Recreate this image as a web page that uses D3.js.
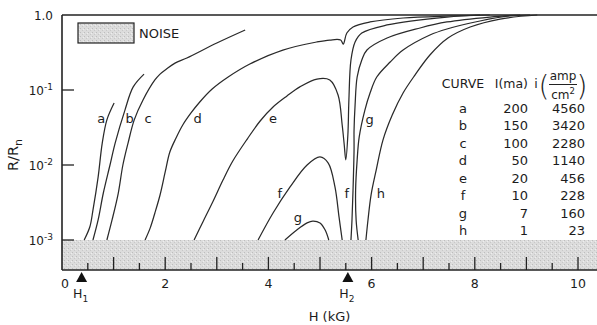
<!DOCTYPE html>
<html><head><meta charset="utf-8">
<script src="https://cdn.jsdelivr.net/npm/d3@7"></script>
<style>
body{margin:0;background:#fff}
svg{display:block}
text{font-family:"DejaVu Sans",sans-serif;fill:#1c1c1c}
</style>
</head><body>
<svg id="chart" width="597" height="325"></svg>
<script>
// ---------- data ----------
const xTickLabels = [0, 2, 4, 6, 8, 10];
const xMajorTicks = [1, 2, 3, 4, 5, 6, 7, 8, 9, 10];
const xMinorTicks = [0.5, 1.5, 2.5, 3.5, 4.5, 5.5, 6.5, 7.5, 8.5, 9.5];
const yTickValues = [1, 0.1, 0.01, 0.001];
const yTickExp = ["1.0", "-1", "-2", "-3"];
const noiseLevel = 0.001;
const H1 = 0.38, H2 = 5.54;

const aH = [0.43, 0.54, 0.60, 0.70, 0.78, 0.87, 1.01];
const aR = [0.001, 0.0015, 0.0025, 0.0069, 0.0196, 0.040, 0.067];
const bH = [0.60, 0.70, 0.80, 0.93, 1.03, 1.22, 1.38, 1.59];
const bR = [0.001, 0.00185, 0.0042, 0.010, 0.0196, 0.054, 0.11, 0.163];
const cH = [0.87, 0.97, 1.09, 1.18, 1.28, 1.40, 1.57, 1.80, 1.90, 2.03, 2.19, 2.42, 3.00, 3.55];
const cR = [0.001, 0.00185, 0.0042, 0.010, 0.0196, 0.040, 0.0736, 0.136, 0.163, 0.192, 0.228, 0.267, 0.423, 0.631];
const dH = [1.61, 1.71, 1.80, 1.90, 2.00, 2.09, 2.21, 2.34, 2.50, 2.67, 2.91, 3.22, 3.64, 4.28, 4.94, 5.19, 5.40, 5.45, 5.52, 5.64, 5.97, 6.61, 7.52, 8.29];
const dR = [0.001, 0.00145, 0.00229, 0.00398, 0.00807, 0.0149, 0.0229, 0.0341, 0.0494, 0.0692, 0.103, 0.149, 0.222, 0.341, 0.437, 0.464, 0.464, 0.41, 0.575, 0.692, 0.807, 0.912, 0.97, 1.0];
const eH = [2.56, 2.73, 2.93, 3.12, 3.31, 3.59, 3.84, 4.09, 4.36, 4.61, 4.94, 5.19, 5.35, 5.43, 5.47, 5.50, 5.54, 5.56, 5.60, 5.68, 5.81, 6.30, 7.46, 8.10];
const eR = [0.001, 0.00174, 0.00331, 0.00631, 0.0113, 0.0222, 0.0386, 0.0593, 0.0832, 0.11, 0.140, 0.136, 0.0858, 0.0341, 0.0185, 0.0117, 0.0251, 0.0736, 0.251, 0.437, 0.575, 0.736, 0.94, 1.0];
const fLeftH = [3.80, 4.09, 4.42, 4.75, 5.00, 5.16, 5.29, 5.37, 5.43];
const fLeftR = [0.001, 0.00229, 0.0051, 0.010, 0.0128, 0.0106, 0.0051, 0.0020, 0.001];
const fRightH = [5.60, 5.62, 5.64, 5.66, 5.66, 5.68, 5.72, 5.81, 5.91, 6.30, 6.94, 7.46, 8.29, 8.88];
const fRightR = [0.001, 0.00185, 0.0046, 0.0158, 0.0293, 0.063, 0.149, 0.251, 0.341, 0.493, 0.671, 0.807, 0.94, 1.0];
const gLeftH = [4.32, 4.55, 4.75, 4.86, 5.00, 5.10, 5.17];
const gLeftR = [0.001, 0.00136, 0.00169, 0.00179, 0.00169, 0.00136, 0.001];
const gRightH = [5.74, 5.70, 5.69, 5.72, 5.76, 5.87, 5.97, 6.10, 6.36, 6.61, 7.13, 7.46, 8.10, 8.68, 9.07];
const gRightR = [0.001, 0.00185, 0.0046, 0.0117, 0.0237, 0.054, 0.0912, 0.149, 0.236, 0.341, 0.541, 0.651, 0.832, 0.97, 1.0];
const hH = [5.89, 5.93, 5.99, 6.09, 6.22, 6.40, 6.61, 6.84, 7.13, 7.48, 7.91, 8.49, 9.21];
const hR = [0.001, 0.00185, 0.0040, 0.0086, 0.0215, 0.0464, 0.0912, 0.158, 0.293, 0.493, 0.692, 0.884, 1.0];

const labelText = ["a", "b", "c", "d", "e", "f", "g", "f", "g", "h"];
const labelH = [0.76, 1.31, 1.67, 2.63, 4.09, 4.22, 4.57, 5.52, 5.96, 6.18];
const labelR = [0.0423, 0.0423, 0.0423, 0.0423, 0.0423, 0.0042, 0.0020, 0.0042, 0.040, 0.0042];

const tableCurve = ["a", "b", "c", "d", "e", "f", "g", "h"];
const tableCurrent = [200, 150, 100, 50, 20, 10, 7, 1];
const tableDensity = [4560, 3420, 2280, 1140, 456, 228, 160, 23];

// ---------- chart ----------
const W = 597;
const svg = d3.select("#chart");
const x = d3.scaleLinear().domain([0, 10]).range([62, 578]);
const y = d3.scaleLog().domain([Math.pow(10, -3.4), 1]).range([270, 15]);
const yBottom = y.domain()[0];

const defs = svg.append("defs");
const pat = defs.append("pattern").attr("id", "stip").attr("patternUnits", "userSpaceOnUse")
  .attr("width", 4).attr("height", 4);
pat.append("rect").attr("width", 4).attr("height", 4).attr("fill", "#dcdcdc");
pat.append("rect").attr("x", 0).attr("y", 0).attr("width", 1).attr("height", 1).attr("fill", "#bdbdbd");
pat.append("rect").attr("x", 2).attr("y", 2).attr("width", 1).attr("height", 1).attr("fill", "#c8c8c8");
pat.append("rect").attr("x", 3).attr("y", 1).attr("width", 1).attr("height", 1).attr("fill", "#eeeeee");

// noise band
svg.append("rect").attr("x", x(0)).attr("y", y(noiseLevel))
  .attr("width", W - x(0)).attr("height", y(yBottom) - y(noiseLevel))
  .attr("fill", "url(#stip)");

// frame
const frame = svg.append("g").attr("stroke", "#222").attr("fill", "none");
frame.append("line").attr("x1", x(0)).attr("x2", W).attr("y1", y(1)).attr("y2", y(1)).attr("stroke-width", 1.6);
frame.append("line").attr("x1", x(0)).attr("x2", W).attr("y1", y(yBottom)).attr("y2", y(yBottom)).attr("stroke-width", 1.6);
frame.append("line").attr("x1", x(0)).attr("x2", x(0)).attr("y1", y(1)).attr("y2", y(yBottom)).attr("stroke-width", 1.6);

// x ticks (inside, upward)
frame.selectAll(".maj").data(xMajorTicks).enter().append("line")
  .attr("x1", d => x(d)).attr("x2", d => x(d)).attr("y1", y(yBottom)).attr("y2", y(yBottom) - 13).attr("stroke-width", 1.3);
frame.selectAll(".min").data(xMinorTicks).enter().append("line")
  .attr("x1", d => x(d)).attr("x2", d => x(d)).attr("y1", y(yBottom)).attr("y2", y(yBottom) - 7).attr("stroke-width", 1.3);
// y ticks (inside)
frame.selectAll(".yt").data(yTickValues.slice(1)).enter().append("line")
  .attr("x1", x(0)).attr("x2", x(0) + 12).attr("y1", d => y(d)).attr("y2", d => y(d)).attr("stroke-width", 1.3);

// x tick labels
svg.selectAll(".xl").data(xTickLabels).enter().append("text")
  .attr("x", d => x(d) + (d === 0 ? 3 : 0)).attr("y", 288).attr("text-anchor", "middle")
  .attr("font-size", 12.5).text(d => d);

// y tick labels
yTickValues.forEach((v, i) => {
  const t = svg.append("text").attr("x", 53).attr("y", y(v) + 5).attr("text-anchor", "end").attr("font-size", 12);
  if (i === 0) { t.text(yTickExp[i]); }
  else {
    t.append("tspan").text("10");
    t.append("tspan").attr("dy", -5).attr("font-size", 9).text(yTickExp[i]);
  }
});

// axis titles
svg.append("text").attr("x", (x(0) + W) / 2).attr("y", 321).attr("text-anchor", "middle")
  .attr("font-size", 13).text("H (kG)");
const yl = svg.append("text").attr("transform", "translate(18,155) rotate(-90)")
  .attr("text-anchor", "middle").attr("font-size", 14.5);
yl.append("tspan").text("R/R");
yl.append("tspan").attr("dy", 4).attr("font-size", 11).text("n");

// H1, H2 markers
[[H1, "1"], [H2, "2"]].forEach(([h, s]) => {
  const cx = x(h), top = y(yBottom) + 2;
  svg.append("path").attr("d", `M${cx},${top} L${cx - 5.5},${top + 10} L${cx + 5.5},${top + 10} Z`).attr("fill", "#111");
  const t = svg.append("text").attr("x", cx - 1).attr("y", 298).attr("text-anchor", "middle").attr("font-size", 12.5);
  t.append("tspan").text("H");
  t.append("tspan").attr("dy", 4).attr("font-size", 9).text(s);
});

// noise legend
svg.append("rect").attr("x", 78).attr("y", 23).attr("width", 56).attr("height", 20)
  .attr("fill", "url(#stip)").attr("stroke", "#222").attr("stroke-width", 1.2);
svg.append("text").attr("x", 139).attr("y", 38).attr("font-size", 13).text("NOISE");

// curves
const line = d3.line().x(d => x(d[0])).y(d => y(d[1])).curve(d3.curveCatmullRom.alpha(0.5));
const pieces = [[aH, aR], [bH, bR], [cH, cR], [dH, dR], [eH, eR], [fLeftH, fLeftR], [fRightH, fRightR],
  [gLeftH, gLeftR], [gRightH, gRightR], [hH, hR]];
svg.append("g").selectAll("path").data(pieces).enter().append("path")
  .attr("d", p => line(p[0].map((h, i) => [h, p[1][i]])))
  .attr("fill", "none").attr("stroke", "#2a2a2a").attr("stroke-width", 1.25);

// curve labels
svg.selectAll(".cl").data(labelText).enter().append("text")
  .attr("x", (d, i) => x(labelH[i])).attr("y", (d, i) => y(labelR[i]) + 4.5)
  .attr("text-anchor", "middle").attr("font-size", 13).text(d => d);

// table
const tbl = svg.append("g").attr("font-size", 13);
tbl.append("text").attr("x", 463).attr("y", 88).attr("text-anchor", "middle").attr("font-size", 12.5).text("CURVE");
tbl.append("text").attr("x", 528).attr("y", 88).attr("text-anchor", "end").attr("font-size", 12.5).text("I(ma)");
tbl.append("text").attr("x", 536).attr("y", 88).attr("text-anchor", "middle").attr("font-size", 12.5).text("i");
tbl.append("text").attr("x", 544).attr("y", 96).attr("text-anchor", "middle").attr("font-size", 28).attr("font-weight", 200).text("(");
tbl.append("text").attr("x", 582).attr("y", 96).attr("text-anchor", "middle").attr("font-size", 28).attr("font-weight", 200).text(")");
tbl.append("text").attr("x", 563).attr("y", 80).attr("text-anchor", "middle").attr("font-size", 12).text("amp");
tbl.append("line").attr("x1", 549).attr("x2", 577).attr("y1", 84.5).attr("y2", 84.5).attr("stroke", "#222").attr("stroke-width", 1);
const cm = tbl.append("text").attr("x", 563).attr("y", 99).attr("text-anchor", "middle").attr("font-size", 12);
cm.append("tspan").text("cm");
cm.append("tspan").attr("dy", -5).attr("font-size", 8.5).text("2");
tableCurve.forEach((c, i) => {
  const yy = 108 + i * 17.5 + 4.5;
  tbl.append("text").attr("x", 463).attr("y", yy).attr("text-anchor", "middle").text(c);
  tbl.append("text").attr("x", 528).attr("y", yy).attr("text-anchor", "end").text(tableCurrent[i]);
  tbl.append("text").attr("x", 585).attr("y", yy).attr("text-anchor", "end").text(tableDensity[i]);
});
</script>
</body></html>
